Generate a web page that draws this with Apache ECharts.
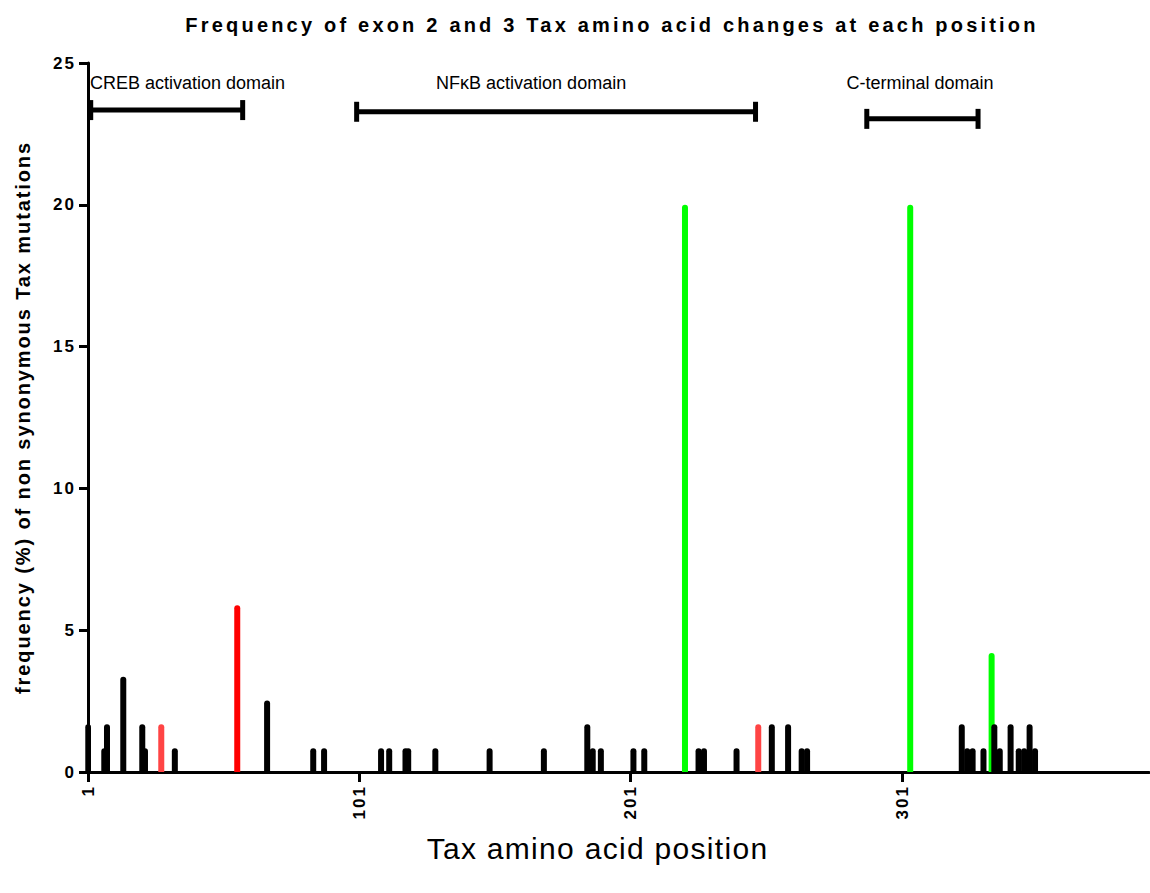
<!DOCTYPE html>
<html><head><meta charset="utf-8">
<script src="https://cdn.jsdelivr.net/npm/echarts@6/dist/echarts.min.js"></script>
<style>html,body{margin:0;padding:0;background:#fff}#chart{width:1150px;height:893px}</style>
</head><body><div id="chart"></div>
<script>
// ---- data ----
const blackPos = [1, 7, 8, 14, 21, 22, 33, 67, 84, 88, 109, 112, 118, 119, 129, 149, 169, 185, 187, 190, 202, 206, 226, 228, 240, 253, 259, 264, 266, 323, 325, 327, 331, 335, 337, 341, 344, 346, 348, 350];
const blackVal = [1.68, 0.84, 1.68, 3.36, 1.68, 0.84, 0.84, 2.52, 0.84, 0.84, 0.84, 0.84, 0.84, 0.84, 0.84, 0.84, 0.84, 1.68, 0.84, 0.84, 0.84, 0.84, 0.84, 0.84, 0.84, 1.68, 1.68, 0.84, 0.84, 1.68, 0.84, 0.84, 0.84, 1.68, 0.84, 1.68, 0.84, 0.84, 1.68, 0.84];
const redPos = [56];
const redVal = [5.88];
const pinkPos = [28, 248];
const pinkVal = [1.68, 1.68];
const greenPos = [221, 304, 334];
const greenVal = [20, 20, 4.2];
const xTicks = [1, 101, 201, 301];
const yTicks = [0, 5, 10, 15, 20, 25];
const domainNames = ['CREB activation domain', 'NFκB activation domain', 'C-terminal domain'];
const domainStart = [2, 100, 288];
const domainEnd = [58, 247, 329];
const domainLevel = [23.34, 23.28, 23.03];
const domainLabelPos = [37.7, 164.3, 307.6];
const domainLabelLevel = 24.3;

const titleText = 'Frequency of exon 2 and 3 Tax amino acid changes at each position';
const xName = 'Tax amino acid position';
const yName = 'frequency (%) of non synonymous Tax mutations';

// ---- build ----
const groups = [
  {pos: greenPos, val: greenVal, color: '#00ff00'},
  {pos: redPos, val: redVal, color: '#ff0000'},
  {pos: pinkPos, val: pinkVal, color: '#ff4444'},
  {pos: blackPos, val: blackVal, color: '#000000'}
];
const barData = [];
groups.forEach(g => g.pos.forEach((p, i) => barData.push({value: [p, g.val[i]], itemStyle: {color: g.color}})));
const domainData = domainNames.map((n, i) => [domainStart[i], domainEnd[i], domainLevel[i], domainLabelPos[i], domainLabelLevel]);

const FONT = '"Liberation Sans", Arial, Helvetica, sans-serif';
const chart = echarts.init(document.getElementById('chart'), null, {renderer: 'svg'});
chart.setOption({
  animation: false,
  backgroundColor: '#fff',
  title: {
    text: titleText,
    left: 607, top: 10, textAlign: 'center',
    textStyle: {fontFamily: FONT, fontWeight: 'bold', fontSize: 20, color: '#000'}
  },
  grid: {left: 88, right: 1, top: 63, bottom: 121, containLabel: false},
  xAxis: {
    type: 'value', min: 1, max: 392,
    name: xName, nameLocation: 'middle', nameGap: 61,
    nameTextStyle: {fontFamily: FONT, fontSize: 30, color: '#000', padding: [0, 42, 0, 0]},
    axisLine: {show: true, onZero: false, lineStyle: {color: '#000', width: 3}},
    axisTick: {show: true, customValues: xTicks, length: 10, lineStyle: {color: '#000', width: 3}},
    axisLabel: {customValues: xTicks, rotate: 90, margin: 13, fontFamily: FONT, fontWeight: 'bold', fontSize: 17, color: '#000'},
    splitLine: {show: false}
  },
  yAxis: {
    type: 'value', min: 0, max: 25, interval: 5,
    name: yName, nameLocation: 'middle', nameGap: 55,
    nameTextStyle: {fontFamily: FONT, fontWeight: 'bold', fontSize: 20, color: '#000'},
    axisLine: {show: true, lineStyle: {color: '#000', width: 3}},
    axisTick: {show: true, length: 9, lineStyle: {color: '#000', width: 3}},
    axisLabel: {margin: 12, fontFamily: FONT, fontWeight: 'bold', fontSize: 17, color: '#000'},
    splitLine: {show: false}
  },
  series: [
    {
      type: 'bar', data: barData, barWidth: 6, z: 1,
      itemStyle: {borderRadius: [3, 3, 0, 0]}
    },
    {
      type: 'custom', data: domainData, clip: false, z: 5,
      encode: {x: [0, 1, 3], y: [2, 4]},
      renderItem: function (params, api) {
        const s = api.coord([api.value(0), api.value(2)]);
        const e = api.coord([api.value(1), api.value(2)]);
        const t = api.coord([api.value(3), api.value(4)]);
        const st = {stroke: '#000', lineWidth: 5};
        return {
          type: 'group',
          children: [
            {type: 'line', shape: {x1: s[0], y1: s[1], x2: e[0], y2: e[1]}, style: st},
            {type: 'line', shape: {x1: s[0], y1: s[1] - 10, x2: s[0], y2: s[1] + 10}, style: st},
            {type: 'line', shape: {x1: e[0], y1: e[1] - 10, x2: e[0], y2: e[1] + 10}, style: st},
            {type: 'text', x: t[0], y: t[1], style: {text: domainNames[params.dataIndex], align: 'center', verticalAlign: 'middle', fontFamily: FONT, fontSize: 18, fill: '#000'}}
          ]
        };
      }
    }
  ]
});

// Prism-style letter spacing on SVG text
const spacing = {};
spacing[titleText] = '3.2px';
spacing[yName] = '1.9px';
spacing[xName] = '1.3px';
xTicks.forEach(v => spacing[String(v)] = '2px');
yTicks.forEach(v => spacing[String(v)] = '2px');
function applySpacing() {
  document.querySelectorAll('#chart svg text').forEach(t => {
    const s = spacing[t.textContent];
    if (s) t.style.letterSpacing = s;
  });
}
applySpacing();
chart.on('finished', applySpacing);
setTimeout(applySpacing, 0);
</script>
</body></html>
